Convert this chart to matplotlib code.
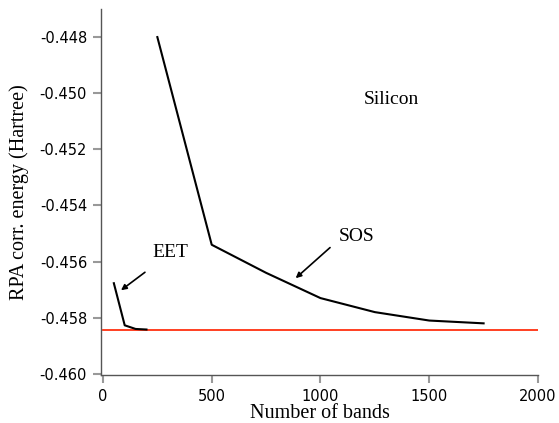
import matplotlib
matplotlib.use("Agg")
import matplotlib.pyplot as plt

# SOS convergence with number of bands
sos_bands = [250, 500, 750, 1000, 1250, 1500, 1750]
sos_energy = [-0.4480, -0.4554, -0.4564, -0.4573, -0.4578, -0.4581, -0.4582]

# EET convergence
eet_bands = [50, 100, 150, 200]
eet_energy = [-0.45677, -0.45827, -0.45840, -0.45842]

# reference (converged) value
ref_bands = [0, 2000]
ref_energy = [-0.45845, -0.45845]

xticks = [0, 500, 1000, 1500, 2000]
yticks = [-0.460, -0.458, -0.456, -0.454, -0.452, -0.450, -0.448]

serif = "Liberation Serif"

fig = plt.figure(figsize=(5.59, 4.23), dpi=100)
ax = fig.add_axes([0.1807, 0.1135, 0.7817, 0.8652])

ax.plot(ref_bands, ref_energy, color="#ff3010", lw=1.3)
ax.plot(sos_bands, sos_energy, color="black", lw=1.5)
ax.plot(eet_bands, eet_energy, color="black", lw=1.5)

ax.set_xlim(-9, 2000)
ax.set_ylim(-0.46004, -0.4470)
ax.set_xticks(xticks)
ax.set_yticks(yticks)
ax.set_yticklabels(["%.3f" % v for v in yticks])

for s in ["top", "right"]:
    ax.spines[s].set_visible(False)
for s in ["left", "bottom"]:
    ax.spines[s].set_color("#555555")
    ax.spines[s].set_linewidth(1.0)
ax.tick_params(direction="out", length=6, width=1.5, color="#999999",
               labelsize=10.5, pad=4)

ax.set_xlabel("Number of bands", family=serif, fontsize=14.5, labelpad=0)
ax.set_ylabel("RPA corr. energy (Hartree)", family=serif, fontsize=14.5, labelpad=8)

ax.text(1200, -0.45024, "Silicon", family=serif, fontsize=14, va="center")
ax.text(225, -0.45567, "EET", family=serif, fontsize=14, va="center")
ax.text(1085, -0.45509, "SOS", family=serif, fontsize=14, va="center")

arrow = dict(arrowstyle="-|>", color="black", lw=1.2,
             shrinkA=0, shrinkB=0, mutation_scale=8)
ax.annotate("", xy=(83, -0.45702), xytext=(193, -0.45638), arrowprops=arrow)
ax.annotate("", xy=(886, -0.45659), xytext=(1044, -0.45550), arrowprops=arrow)

fig.savefig("out.png", dpi=100)
